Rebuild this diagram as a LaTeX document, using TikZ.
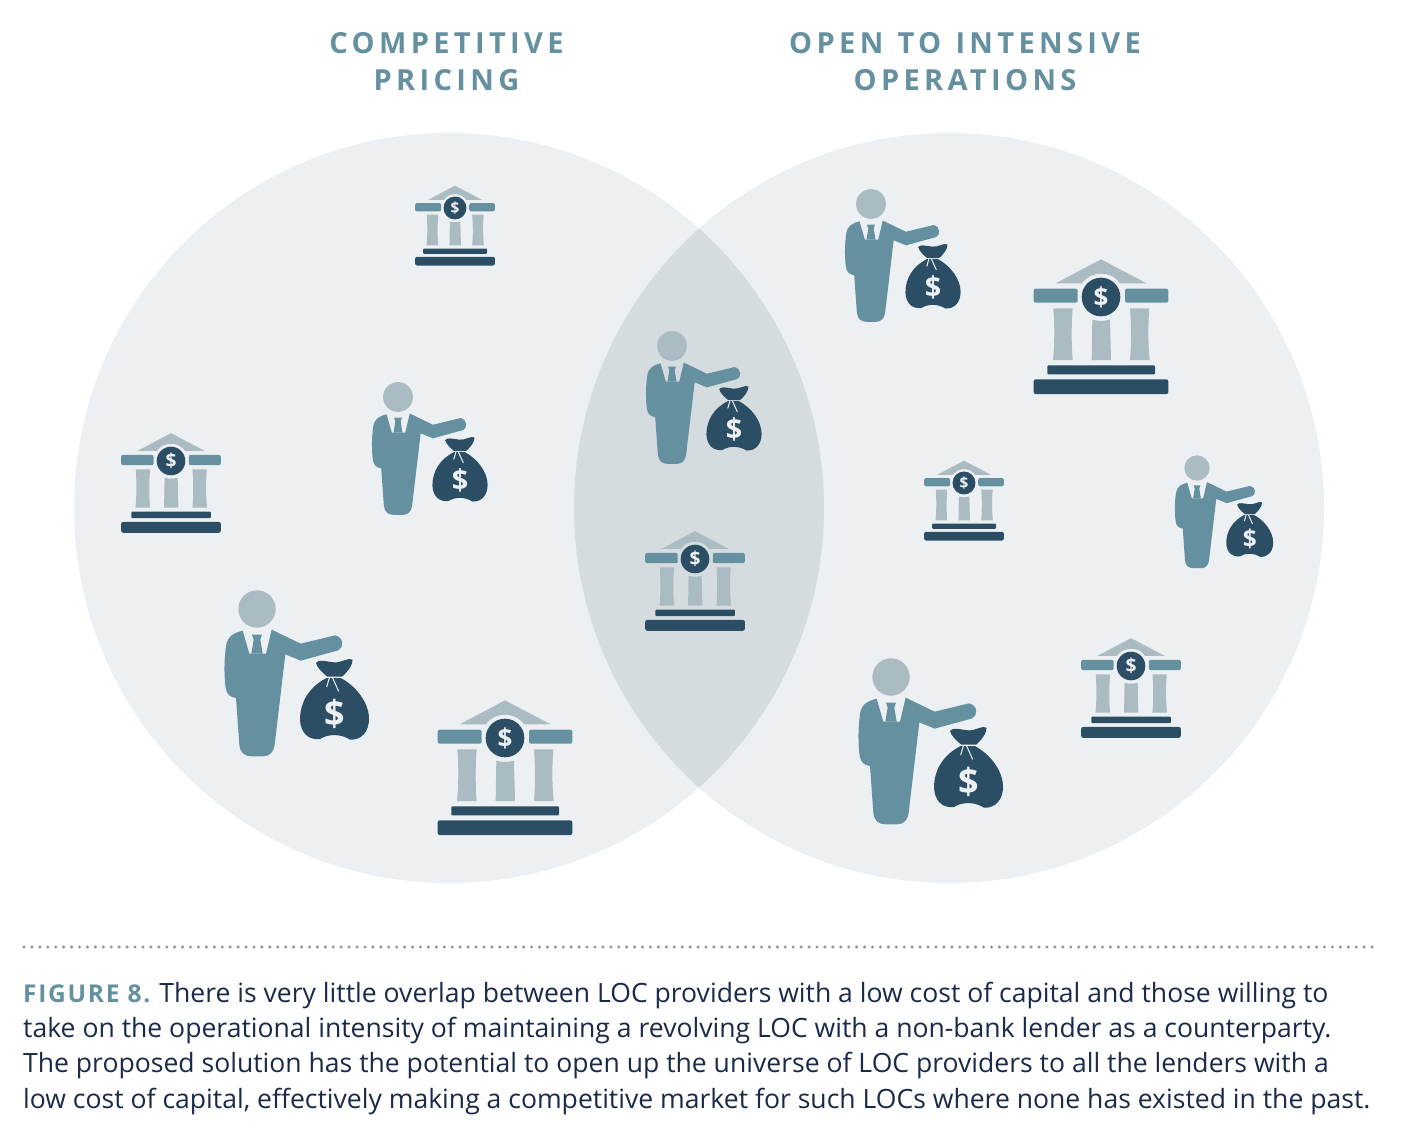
\documentclass[tikz,border=0pt]{standalone}
\usepackage{fontspec,xcolor}
\setmainfont{Open Sans}
\newfontfamily\headfont[LetterSpace=15,WordSpace=1.2]{Open Sans}
\newfontfamily\figfont[LetterSpace=7]{Open Sans}
\usetikzlibrary{calc,positioning}
\definecolor{teal}{HTML}{6590A0}
\definecolor{slate}{HTML}{ABBBC2}
\definecolor{navy}{HTML}{2C4E65}
\definecolor{pale}{HTML}{EDF0F3}
\definecolor{overlap}{HTML}{D5DCE0}
\definecolor{ink}{HTML}{1B2A4A}
\tikzset{
 headtxt/.style={font=\headfont\bfseries\fontsize{29}{37}\selectfont,text=teal,align=center,inner sep=0pt},
 sign/.style={transform shape,text=pale,inner sep=0pt,font=\bfseries\fontsize{#1}{#1}\selectfont},
 person/.pic={
  \begin{scope}[shift={(-141,-88)}]
  \fill[slate] (141,88) circle[radius=56];
  \fill[teal] (98,153) .. controls (70,160) and (52,170) .. (48,200) .. controls (42,240) and (42,290) .. (47,325)
   .. controls (50,345) and (62,353) .. (78,355) -- (88,495) .. controls (90,520) and (105,530) .. (125,530)
   -- (160,530) .. controls (180,530) and (192,515) .. (194,495) -- (226,224) -- (272,243) -- (385,212)
   .. controls (402,205) and (402,172) .. (375,167) -- (272,192) -- (185,150) -- (168,222) -- (118,222) -- cycle;
  \fill[teal] (126,165) -- (156,165) -- (151,180) -- (158,222) -- (124,222) -- (131,180) -- cycle;
  \fill[navy] (318,250) .. controls (325,238) and (345,245) .. (372,248) .. controls (395,250) and (415,232) .. (428,240)
   .. controls (428,258) and (410,280) .. (396,291) -- (352,291) .. controls (338,280) and (322,265) .. (318,250) -- cycle;
  \fill[navy] (350,295) .. controls (300,320) and (270,365) .. (270,420) .. controls (272,460) and (295,482) .. (330,478)
   .. controls (355,462) and (392,462) .. (420,480) .. controls (455,482) and (478,455) .. (477,415)
   .. controls (476,370) and (440,320) .. (392,295) -- cycle;
  \draw[pale,line width=1pt] (358,295) -- (350,322) (368,295) -- (386,335);
  \node[sign=108] (dollar) at (374,402) {\$};
  \end{scope}},
 bank/.pic={
  \begin{scope}[shift={(-238,-143)}]
  \fill[slate] (102,102) -- (238,30) -- (375,102) -- (295,102) .. controls (282,82) and (260,73) .. (238,73)
   .. controls (216,73) and (194,82) .. (181,102) -- cycle;
  \fill[teal,rounded corners=2pt] (168,118) -- (36,118) -- (36,160) -- (168,160) -- cycle;
  \fill[teal,rounded corners=2pt] (310,118) -- (440,118) -- (440,160) -- (310,160) -- cycle;
  \fill[slate] (95,177) -- (153,177) .. controls (149,230) and (149,280) .. (153,332) -- (94,332) .. controls (99,280) and (99,230) .. (95,177) -- cycle;
  \fill[slate] (325,177) -- (383,177) .. controls (379,230) and (379,280) .. (384,332) -- (325,332) .. controls (329,280) and (329,230) .. (325,177) -- cycle;
  \fill[slate] (212,211) .. controls (228,216) and (248,216) .. (265,211) -- (268,332) -- (210,332) -- cycle;
  \fill[navy,rounded corners=1pt] (77,375) -- (77,348) -- (400,348) -- (400,375) -- cycle;
  \fill[navy,rounded corners=2pt] (36,390) -- (440,390) -- (440,434) -- (36,434) -- cycle;
  \fill[navy] (238,143) circle[radius=58];
  \node[sign=78] (dollar) at (238,143) {\$};
  \end{scope}}
}
\begin{document}
\begin{tikzpicture}[x=1pt,y=-1pt]
\useasboundingbox (0,0) rectangle (1406,1140);
\fill[white] (0,0) rectangle (1406,1140);
% the two sets
\fill[pale] (449,508) circle[radius=375];
\fill[pale] (949,508) circle[radius=375];
\begin{scope}
\clip (449,508) circle[radius=375];
\fill[overlap] (949,508) circle[radius=375];
\end{scope}
\node[headtxt] (pricing) at (446.5,61.5) {COMPETITIVE\\PRICING};
\node[headtxt] (intensive) at (965,61.5) {OPEN TO INTENSIVE\\OPERATIONS};
% icons
\foreach \px/\py/\esc in {257/609/1,891/677/1,398/397/.8,672/346/.8,871/204/.8,1197/468/.68}{
\pic[scale=\esc/3] at (\px,\py) {person};}
\foreach \bx/\by/\esc in {505/738/1,1101/297/1,171/461/.74,695/559/.74,1131/666/.74,455/208/.593,964/483/.593}{
\pic[scale=\esc/3] at (\bx,\by) {bank};}
% caption
\coordinate (rulea) at (24,947);
\coordinate (ruleb) at (1376,947);
\draw[gray!85,line width=3.4,line cap=round,dash pattern=on 0pt off 7.93pt] (rulea) -- (ruleb);
\node[anchor=north west,inner sep=0pt,align=left,text=ink,font=\fontsize{26.55}{35.2}\selectfont] (caption) at (23,982)
{{\figfont\bfseries\fontsize{24.5}{35.2}\selectfont\textcolor{teal}{FIGURE 8.}} There is very little overlap between LOC providers with a low cost of capital and those willing to\\
take on the operational intensity of maintaining a revolving LOC with a non-bank lender as a counterparty.\\
The proposed solution has the potential to open up the universe of LOC providers to all the lenders with a\\
low cost of capital, effectively making a competitive market for such LOCs where none has existed in the past.};
\end{tikzpicture}
\end{document}
